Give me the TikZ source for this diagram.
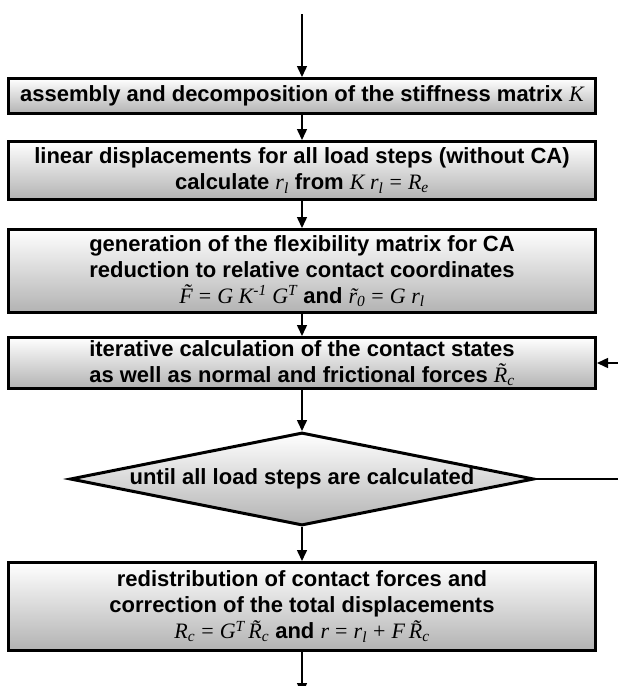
\documentclass[tikz,border=0pt]{standalone}
\usepackage{fontspec}
\setmainfont{Liberation Sans}
\newfontfamily\timesf{Liberation Serif}
\usepackage{tikz}
\usetikzlibrary{positioning}
\usetikzlibrary{shapes.geometric}
\usetikzlibrary{shadows}
\usetikzlibrary{arrows.meta}

\newcommand{\vm}[1]{{\timesf\mdseries\itshape #1}}
\newcommand{\vsub}[1]{\textsubscript{#1}}
\newcommand{\vsup}[1]{\textsuperscript{#1}}

\begin{document}
\begin{tikzpicture} [x=1pt, y=-1pt,
        box/.style = {draw, line width=3pt, top color=white, bottom color=black!30,
                      drop shadow={shadow xshift=1.5pt, shadow yshift=-1.5pt, fill=black!35},
                      minimum width=587pt, align=center, inner sep=1pt,
                      font=\bfseries\fontsize{22}{26}\selectfont},
        decision/.style = {diamond, draw, line width=3pt, top color=white, bottom color=black!30,
                      aspect=5, minimum width=464pt, minimum height=93pt, inner sep=0pt,
                      font=\bfseries\fontsize{22}{26}\selectfont},
        flow/.style = {-{Triangle[length=11pt, width=10pt]}, line width=1.5pt}]
        \useasboundingbox (0,0) rectangle (618,686);
        \clip (0,0) rectangle (618,686);

        %Knoten
        \coordinate (start) at (302,14);
        \node[box, minimum height=35pt] (assembly) at (302,96)
            {assembly and decomposition of the stiffness matrix \vm{K}};
        \node[box, minimum height=58pt] (linear) [below = 25pt of assembly]
            {linear displacements for all load steps (without CA)\\
             calculate \vm{r\vsub{l}} from \vm{K r\vsub{l}} \vm{\upshape=} \vm{R\vsub{e}}};
        \node[box, minimum height=83pt] (flex) [below = 27pt of linear]
            {generation of the flexibility matrix for CA\\
             reduction to relative contact coordinates\\
             \vm{\~F} \vm{\upshape=} \vm{G K\vsup{-1} G\vsup{T}} and \vm{\~r\vsub{0}} \vm{\upshape=} \vm{G r\vsub{l}}};
        \node[box, minimum height=51pt] (iter) [below = 22pt of flex]
            {iterative calculation of the contact states\\
             as well as normal and frictional forces \vm{\~R\vsub{c}}};
        \node[decision] (until) [below = 41pt of iter]
            {until all load steps are calculated};
        \node[box, minimum height=88pt] (redist) [below = 34pt of until]
            {redistribution of contact forces and\\
             correction of the total displacements\\
             \vm{R\vsub{c}} \vm{\upshape=} \vm{G\vsup{T}\,\~R\vsub{c}} and \vm{r} \vm{\upshape=} \vm{r\vsub{l}} \vm{\upshape+} \vm{F\,\~R\vsub{c}}};
        \coordinate (end) at (302,694);

        %Kanten
        \draw[flow] (start) -- (assembly);
        \draw[flow] (assembly) -- (linear);
        \draw[flow] (linear) -- (flex);
        \draw[flow] (flex) -- (iter);
        \draw[flow] (iter) -- (until);
        \draw[flow] (until) -- (redist);
        \draw[flow] (redist) -- (end);

        \draw[flow] (until.east) -- ++(120,0) |- (iter.east);

    \end{tikzpicture}
\end{document}
